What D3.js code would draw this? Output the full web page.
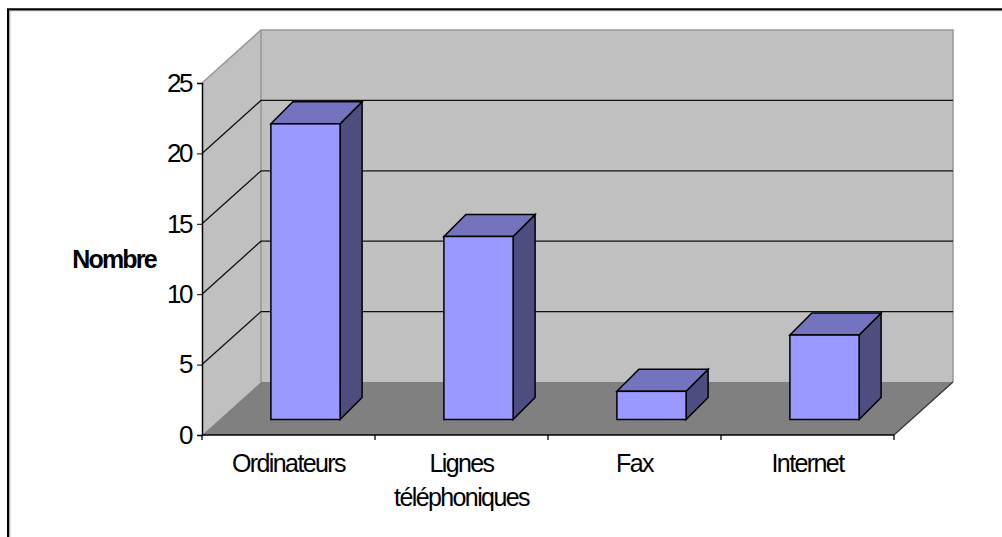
<!DOCTYPE html>
<html>
<head>
<meta charset="utf-8">
<script src="https://cdn.jsdelivr.net/npm/d3@7"></script>
<style>
html, body { margin: 0; padding: 0; background: #fff; }
svg { display: block; }
text { font-family: "Liberation Sans", Arial, sans-serif; fill: #000; }
</style>
</head>
<body>
<div id="chart"></div>
<script>
const categories = ["Ordinateurs", "Lignes téléphoniques", "Fax", "Internet"];
const values = [21, 13, 2, 6];
const yTicks = [0, 5, 10, 15, 20, 25];
const yTitle = "Nombre";

function drawChart() {
    const width = 1002, height = 537;

    // how far the back wall is pushed away from the front edge of the floor
    const depthX = 59, depthY = -53;
    // bars stand in the middle of the floor depth
    const barDepth = 22, barShiftX = 17, barShiftY = -15.5;

    const x = d3.scaleBand()
        .domain(categories)
        .range([202, 894])
        .paddingInner(0.6)
        .paddingOuter(0.3);

    const y = d3.scaleLinear()
        .domain([0, 25])
        .range([435, 83]);

    const svg = d3.select("#chart").append("svg")
        .attr("width", width)
        .attr("height", height);

    // frame
    svg.append("path").attr("d", "M9.7,537V10.7H1002").attr("fill", "none").attr("stroke", "#a8a8a8").attr("stroke-width", 1.3);
    svg.append("path").attr("d", "M8,537V9.2H1002").attr("fill", "none").attr("stroke", "#000").attr("stroke-width", 2);

    const poly = (pts) => "M" + pts.map((p) => p.join(",")).join("L") + "Z";
    const x0 = x.range()[0], x1 = x.range()[1];
    const y0 = y(0), yTop = y(25);

    // side wall
    svg.append("path")
        .attr("d", poly([[x0, y0], [x0, yTop], [x0 + depthX, yTop + depthY], [x0 + depthX, y0 + depthY]]))
        .attr("fill", "#c0c0c0");

    // back wall
    svg.append("path")
        .attr("d", poly([[x0 + depthX, yTop + depthY], [x1 + depthX, yTop + depthY], [x1 + depthX, y0 + depthY], [x0 + depthX, y0 + depthY]]))
        .attr("fill", "#c0c0c0");

    // floor
    svg.append("path")
        .attr("d", poly([[x0, y0], [x0 + depthX, y0 + depthY], [x1 + depthX, y0 + depthY], [x1, y0]]))
        .attr("fill", "#808080");

    // wall outline
    svg.append("path")
        .attr("d", "M" + x0 + "," + yTop + "L" + (x0 + depthX) + "," + (yTop + depthY) + "H" + (x1 + depthX) + "V" + (y0 + depthY))
        .attr("fill", "none")
        .attr("stroke", "#969696")
        .attr("stroke-width", 1.5);
    svg.append("line")
        .attr("x1", x0 + depthX).attr("x2", x0 + depthX)
        .attr("y1", yTop + depthY).attr("y2", y0 + depthY)
        .attr("stroke", "#969696")
        .attr("stroke-width", 1.5);

    // gridlines
    yTicks.filter((d) => d > 0 && d < 25).forEach((d) => {
        svg.append("path")
            .attr("d", "M" + x0 + "," + y(d) + "L" + (x0 + depthX) + "," + (y(d) + depthY) + "H" + (x1 + depthX))
            .attr("fill", "none")
            .attr("stroke", "#111")
            .attr("stroke-width", 1.3);
    });

    // floor edge on the right
    svg.append("line")
        .attr("x1", x1).attr("y1", y0)
        .attr("x2", x1 + depthX).attr("y2", y0 + depthY)
        .attr("stroke", "#333")
        .attr("stroke-width", 1.2);

    // bars
    const bars = svg.selectAll(".bar")
        .data(categories.map((c, i) => ({ key: c, value: values[i] })))
        .enter().append("g")
        .attr("class", "bar")
        .attr("transform", "translate(" + barShiftX + "," + barShiftY + ")");

    bars.append("path")
        .attr("d", (d) => poly([
            [x(d.key) + x.bandwidth(), y(d.value)],
            [x(d.key) + x.bandwidth() + barDepth, y(d.value) - barDepth],
            [x(d.key) + x.bandwidth() + barDepth, y(0) - barDepth],
            [x(d.key) + x.bandwidth(), y(0)]
        ]))
        .attr("fill", "#4d4d80")
        .attr("stroke", "#000")
        .attr("stroke-width", 1.5);

    bars.append("path")
        .attr("d", (d) => poly([
            [x(d.key), y(d.value)],
            [x(d.key) + barDepth, y(d.value) - barDepth],
            [x(d.key) + x.bandwidth() + barDepth, y(d.value) - barDepth],
            [x(d.key) + x.bandwidth(), y(d.value)]
        ]))
        .attr("fill", "#7373bf")
        .attr("stroke", "#000")
        .attr("stroke-width", 1.5);

    bars.append("rect")
        .attr("x", (d) => x(d.key))
        .attr("y", (d) => y(d.value))
        .attr("width", x.bandwidth())
        .attr("height", (d) => y(0) - y(d.value))
        .attr("fill", "#9999ff")
        .attr("stroke", "#000")
        .attr("stroke-width", 1.5);

    // axes
    const yAxis = svg.append("g")
        .attr("transform", "translate(" + x0 + ",0)")
        .call(d3.axisLeft(y).tickValues(yTicks).tickSize(5).tickPadding(6));
    yAxis.select(".domain").attr("stroke-width", 1.5);
    yAxis.selectAll("text")
        .attr("font-size", 26)
        .attr("letter-spacing", -2.5);

    const xAxis = svg.append("g")
        .attr("transform", "translate(0," + y0 + ")");
    xAxis.append("line").attr("x1", x0).attr("x2", x1).attr("stroke", "#000").attr("stroke-width", 1.5);
    const tickStep = (x1 - x0) / categories.length;
    d3.range(categories.length + 1).forEach((i) => {
        xAxis.append("line")
            .attr("x1", x0 + i * tickStep).attr("x2", x0 + i * tickStep)
            .attr("y1", 0).attr("y2", 5)
            .attr("stroke", "#000")
            .attr("stroke-width", 1.3);
    });

    categories.forEach((c) => {
        const cx = x(c) + x.bandwidth() / 2;
        c.split(" ").forEach((w, j) => {
            svg.append("text")
                .attr("x", cx)
                .attr("y", 472 + j * 34)
                .attr("text-anchor", "middle")
                .attr("font-size", 25)
                .attr("letter-spacing", -1.6)
                .text(w);
        });
    });

    svg.append("text")
        .attr("x", 114)
        .attr("y", 268)
        .attr("text-anchor", "middle")
        .attr("font-size", 25)
        .attr("font-weight", "bold")
        .attr("letter-spacing", -1.8)
        .text(yTitle);
}

drawChart();
</script>
</body>
</html>
